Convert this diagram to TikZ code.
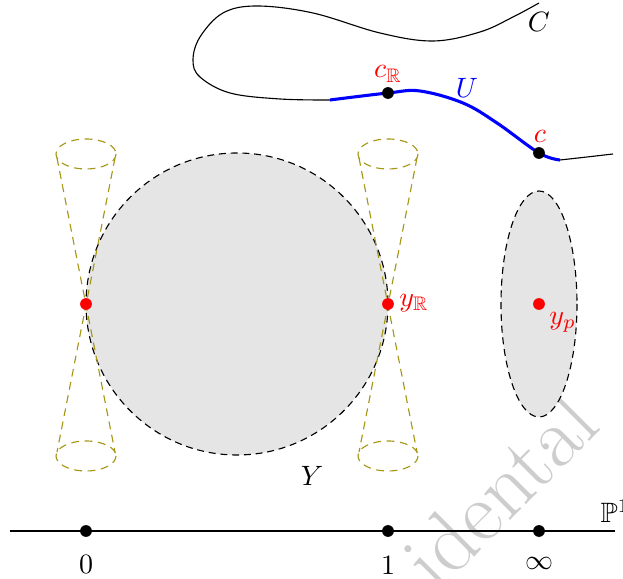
\documentclass[tikz,border=0pt]{standalone}
\usepackage{amssymb}
\definecolor{olv}{RGB}{165,150,20}
\definecolor{wmgray}{RGB}{205,205,205}
\begin{document}
\begin{tikzpicture}[x=0.01256cm,y=-0.01256cm,
  bdash/.style={draw=black,dash pattern=on 2.5pt off 1.7pt},
  conedash/.style={draw=olv,dash pattern=on 2.8pt off 2pt},
  dotb/.style={fill=black},
  dotr/.style={fill=red},
  lab/.style={inner sep=1pt}]
\useasboundingbox (0,0) rectangle (623,579);

% watermark
\node[text=wmgray, rotate=45, anchor=base west, inner sep=0pt,
      font=\fontsize{30.7}{37}\selectfont] (wmark) at (437,594) {idental};

% the curve C
\draw[black] plot[smooth, tension=0.6] coordinates {(539,3) (513,17) (480,32) (433,41) (380,33) (313,13) (257,6) (223,13) (200,37) (193,60) (200,77) (230,93) (280,99) (330,100)};
\draw[blue, line width=1.1pt] plot[smooth, tension=0.6] coordinates {(330,100) (388,93) (420,91) (463,103) (497,123) (539,153) (560,160)};
\draw[black] plot[smooth, tension=0.6] coordinates {(560,160) (587,157) (613,154)};
\coordinate (cR) at (388,93);
\coordinate (cc) at (539,153);
\fill[dotb] (cR) circle (2.1pt);
\fill[dotb] (cc) circle (2.1pt);
\node[lab] (labC) at (539,22) {$C$};
\node[lab, text=red] (labcR) at (388,74) {$c_{\mathbb{R}}$};
\node[lab, text=blue] (labU) at (467,88) {$U$};
\node[lab, text=red] (labc) at (540,136) {$c$};

% Y and the fibre
\draw[bdash, fill=black!10] (237,304) circle (151);
\draw[bdash, fill=black!10] (539,304) ellipse [x radius=38, y radius=113];

% cones
\foreach \cx/\nm in {86/L,388/R}{
  \draw[conedash] (\cx,154) ellipse [x radius=30, y radius=15];
  \draw[conedash] (\cx,456) ellipse [x radius=30, y radius=15];
  \draw[conedash] (\cx-29,158) -- (\cx+29,452);
  \draw[conedash] (\cx+29,158) -- (\cx-29,452);
}

\coordinate (yL) at (86,304);
\coordinate (yR) at (388,304);
\coordinate (yp) at (539,304);
\fill[dotr] (yL) circle (2.1pt);
\fill[dotr] (yR) circle (2.1pt);
\fill[dotr] (yp) circle (2.1pt);
\node[lab, text=red, anchor=west] (labyR) at (396,303) {$y_{\mathbb{R}}$};
\node[lab, text=red, anchor=west] (labyp) at (546,322) {$y_p$};
\node[lab] (labY) at (312,476) {$Y$};

% P^1
\coordinate (axL) at (10,531);
\coordinate (axR) at (615,531);
\draw[line width=0.5pt] (axL) -- (axR);
\coordinate (p0) at (86,531);
\coordinate (p1) at (388,531);
\coordinate (pinf) at (539,531);
\fill[dotb] (p0) circle (2.1pt);
\fill[dotb] (p1) circle (2.1pt);
\fill[dotb] (pinf) circle (2.1pt);
\node[lab] (lab0) at (86,564) {$0$};
\node[lab] (lab1) at (388,565) {$1$};
\node[lab] (labinf) at (539,563) {$\infty$};
\node[inner sep=0pt, anchor=base west] (labP) at (600,523) {$\mathbb{P}^1$};
\end{tikzpicture}
\end{document}
